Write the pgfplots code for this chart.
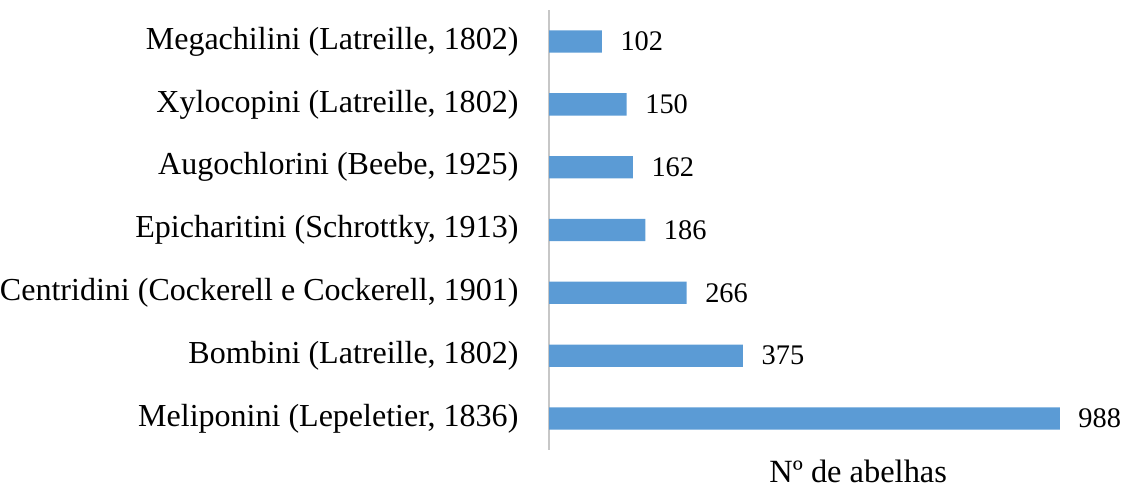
\documentclass[border=0pt]{standalone}
\usepackage{pgfplots}
\pgfplotsset{compat=1.18}
\usepackage{fontspec}
\setmainfont{Liberation Serif}
\definecolor{barblue}{HTML}{5B9BD5}
\begin{document}
\fontsize{16}{18}\selectfont
\begin{tikzpicture}
\begin{axis}[
  name=main,
  scale only axis,
  width=255pt, height=217pt,
  xbar, bar width=11pt,
  xmin=0, xmax=1000,
  ymin=-0.5, ymax=6.5,
  axis x line*=bottom,
  axis y line*=left,
  x axis line style={draw=none},
  y axis line style={draw=black!22, line width=0.8pt},
  xtick=\empty,
  ytick={0,1,2,3,4,5,6},
  yticklabels={{Meliponini (Lepeletier, 1836)},{Bombini (Latreille, 1802)},{Centridini (Cockerell e Cockerell, 1901)},{Epicharitini (Schrottky, 1913)},{Augochlorini (Beebe, 1925)},{Xylocopini (Latreille, 1802)},{Megachilini (Latreille, 1802)}},
  major tick length=0pt,
  yticklabel style={inner sep=0pt, anchor=east, xshift=-15pt, font=\fontsize{15.8}{18}\selectfont},
  /pgf/number format/assume math mode=true,
  nodes near coords,
  nodes near coords style={anchor=west, inner sep=0pt, xshift=9pt, font=\fontsize{14}{16}\selectfont},
  xlabel={Nº de abelhas},
  xlabel style={at={(axis description cs:0.598,0)}, anchor=north, inner sep=0pt, yshift=-5pt, font=\fontsize{16}{18}\selectfont},
  clip=false,
]
\addplot[fill=barblue, draw=none] coordinates {(988,0) (375,1) (266,2) (186,3) (162,4) (150,5) (102,6)};
\end{axis}
\path (main.north) ++(0,5pt) coordinate (topmargin);
\path (main.south) ++(0,-26pt) coordinate (bottommargin);
\end{tikzpicture}
\end{document}
